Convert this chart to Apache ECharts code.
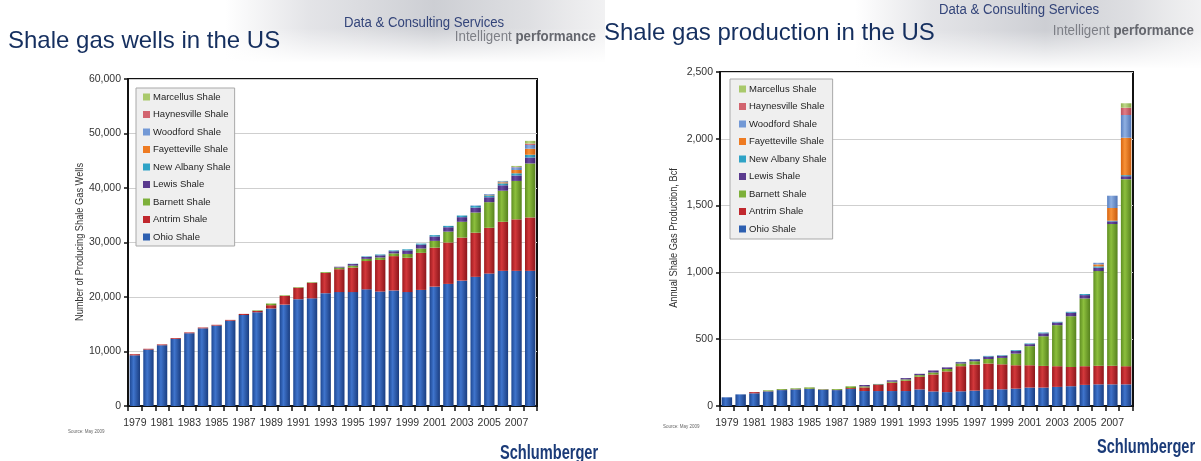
<!DOCTYPE html>
<html>
<head>
<meta charset="utf-8">
<script src="https://cdn.jsdelivr.net/npm/echarts@6/dist/echarts.min.js"></script>
<style>
  html, body { margin: 0; padding: 0; background: #ffffff; }
  #chart { width: 1201px; height: 461px; }
</style>
</head>
<body>
<div id="chart"></div>
<script>
// Years on the category axis
const years = ['1979','1980','1981','1982','1983','1984','1985','1986','1987','1988',
  '1989','1990','1991','1992','1993','1994','1995','1996','1997','1998',
  '1999','2000','2001','2002','2003','2004','2005','2006','2007','2008'];

// Number of producing shale gas wells, by play
const ohioWells = [9300,10350,11150,12300,13350,14250,14750,15650,16700,17200,17900,18600,19600,19750,20700,20900,20900,21400,21000,21200,20900,21300,21900,22400,23000,23700,24300,24800,24800,24800];
const antrimWells = [200,150,150,150,150,150,150,150,200,250,600,1600,2100,2850,3700,4200,4500,5200,5800,6300,6300,6800,7150,7600,7900,8100,8400,9000,9450,9800];
const barnettWells = [0,0,0,0,0,0,0,0,0,100,300,100,100,100,150,300,350,400,450,500,700,800,1250,2000,2900,3700,4700,5700,7050,9900];
const lewisWells = [0,0,0,0,0,0,0,0,0,0,0,0,0,0,0,150,300,350,400,400,650,700,800,800,850,900,900,1000,1000,1100];
const newAlbanyWells = [0,0,0,0,0,0,0,0,0,0,0,0,0,0,0,0,50,100,150,150,200,200,250,250,300,300,350,350,400,500];
const fayettevilleWells = [0,0,0,0,0,0,0,0,0,0,0,0,0,0,0,0,0,0,0,0,0,0,0,0,0,0,100,200,600,1100];
const woodfordWells = [0,0,0,0,0,0,0,0,0,0,0,0,0,0,0,0,0,0,0,0,0,0,0,0,0,100,150,200,500,700];
const haynesvilleWells = [0,0,0,0,0,0,0,0,0,0,0,0,0,0,0,0,0,0,0,0,0,0,0,0,0,0,0,0,50,250];
const marcellusWells = [0,0,0,0,0,0,0,0,0,0,0,0,0,0,0,0,0,0,0,0,0,0,0,0,0,0,0,50,200,500];

// Annual shale gas production (Bcf), by play
const ohioProd = [65,87,95,109,119,124,127,122,119,127,112,112,112,112,124,109,104,110,115,125,125,130,138,138,143,148,158,162,162,162];
const antrimProd = [0,0,9,2,2,2,2,2,2,7,27,45,62,77,95,127,155,188,195,193,187,175,167,162,155,144,140,140,140,136];
const barnettProd = [0,0,0,6,6,6,10,3,6,13,8,5,8,10,12,15,18,20,25,34,48,87,143,222,307,380,507,708,1060,1400];
const lewisProd = [0,0,0,0,0,0,0,0,0,0,10,3,10,10,10,15,12,10,14,18,16,20,15,22,20,26,25,25,20,22];
const newAlbanyProd = [0,0,0,0,0,0,0,0,0,0,0,0,0,0,0,0,0,2,3,5,4,6,5,6,5,7,8,10,5,8];
const fayettevilleProd = [0,0,0,0,0,0,0,0,0,0,0,0,0,0,0,0,0,0,0,0,0,0,0,0,0,0,0,15,95,280];
const woodfordProd = [0,0,0,0,0,0,0,0,0,0,0,0,0,0,0,0,0,0,0,0,0,0,0,0,0,0,0,12,92,170];
const haynesvilleProd = [0,0,0,0,0,0,0,0,0,0,0,0,0,0,0,0,0,0,0,0,0,0,0,0,0,0,0,0,0,55];
const marcellusProd = [0,0,0,0,0,0,0,0,0,0,0,0,0,0,0,0,0,0,0,0,0,0,0,0,0,0,0,0,0,33];

// Axis ticks
const wellTicks = { min: 0, max: 60000, interval: 10000 };
const prodTicks = { min: 0, max: 2500, interval: 500 };

// Play names in stacking order (bottom to top) and their shaded colours
const plays = [
  { name: 'Ohio Shale',        c: ['#1d4792', '#3f74cc', '#1a3d80'], solid: '#2d5fb0' },
  { name: 'Antrim Shale',      c: ['#9d1a1f', '#d3383b', '#8c161b'], solid: '#c0272d' },
  { name: 'Barnett Shale',     c: ['#5f8e22', '#8cbf3d', '#56821e'], solid: '#7db03a' },
  { name: 'Lewis Shale',       c: ['#46297a', '#6b4aa3', '#3e2470'], solid: '#5a3a8e' },
  { name: 'New Albany Shale',  c: ['#1d86a8', '#44b6d6', '#1a7896'], solid: '#2fa3c6' },
  { name: 'Fayetteville Shale',c: ['#d8640f', '#f89238', '#c85a0c'], solid: '#ee7b22' },
  { name: 'Woodford Shale',    c: ['#587fc0', '#8fb0e2', '#5074b4'], solid: '#7399d6' },
  { name: 'Haynesville Shale', c: ['#bb4f5b', '#e27d87', '#ad4651'], solid: '#d2646f' },
  { name: 'Marcellus Shale',   c: ['#8fb150', '#bfd98a', '#84a547'], solid: '#a9c96b' }
];
const wellSeries = [ohioWells, antrimWells, barnettWells, lewisWells, newAlbanyWells,
  fayettevilleWells, woodfordWells, haynesvilleWells, marcellusWells];
const prodSeries = [ohioProd, antrimProd, barnettProd, lewisProd, newAlbanyProd,
  fayettevilleProd, woodfordProd, haynesvilleProd, marcellusProd];

const SANS = '"Liberation Sans", Arial, sans-serif';
const NAVY = '#152f5f';

function shade(c) {
  return { type: 'linear', x: 0, y: 0, x2: 1, y2: 0,
    colorStops: [{ offset: 0, color: c[0] }, { offset: 0.38, color: c[1] }, { offset: 1, color: c[2] }] };
}

function thousands(v) { return String(v).replace(/\B(?=(\d{3})+(?!\d))/g, ','); }

function buildSeries(values, idx, stack) {
  return plays.map((p, i) => ({
    name: p.name,
    type: 'bar',
    stack: stack,
    xAxisIndex: idx,
    yAxisIndex: idx,
    barWidth: '76%',
    data: values[i],
    itemStyle: { color: shade(p.c) },
    emphasis: { disabled: true }
  }));
}

const legendData = plays.slice().reverse().map(p => ({ name: p.name, itemStyle: { color: p.solid } }));

function legend(left, top, padding) {
  return {
    orient: 'vertical', left: left, top: top, padding: padding,
    backgroundColor: '#efefef', borderColor: '#a9a9a9', borderWidth: 1,
    itemWidth: 7, itemHeight: 7, itemGap: 5.5, icon: 'rect',
    textStyle: { fontFamily: SANS, fontSize: 9.5, color: '#1e1e1e', lineHeight: 12, padding: [0, 0, 0, -2] },
    data: legendData, selectedMode: false
  };
}

function xAxis(idx) {
  return {
    type: 'category', gridIndex: idx, data: years,
    axisLine: { lineStyle: { color: '#111', width: 2 } },
    axisTick: { show: true, interval: 0, length: 5, lineStyle: { color: '#111', width: 1.5 } },
    axisLabel: { interval: 1, fontFamily: SANS, fontSize: 10.5, color: '#333', margin: 12 }
  };
}

function yAxis(idx, t) {
  return {
    type: 'value', gridIndex: idx, min: t.min, max: t.max, interval: t.interval,
    axisLine: { show: true, lineStyle: { color: '#111', width: 2 } },
    axisTick: { show: true, length: 4, lineStyle: { color: '#111', width: 1.5 } },
    axisLabel: { fontFamily: SANS, fontSize: 10.5, color: '#333', margin: 7, formatter: thousands },
    splitLine: { lineStyle: { color: '#cfcfcf', width: 1 } }
  };
}

// Slide header decoration: grey band behind the banner text
function headerBand(x, w, h) {
  return [
    { type: 'rect', silent: true, z: -10, shape: { x: x, y: 0, width: w, height: h },
      style: { fill: { type: 'linear', x: 0, y: 0, x2: 1, y2: 0, colorStops: [
        { offset: 0, color: 'rgba(205,206,212,0)' },
        { offset: 0.22, color: 'rgba(205,206,212,0.55)' },
        { offset: 0.55, color: 'rgba(196,198,204,0.85)' },
        { offset: 0.8, color: 'rgba(214,215,219,0.8)' },
        { offset: 1, color: 'rgba(232,232,234,0.6)' }] } } },
    { type: 'rect', silent: true, z: -10, shape: { x: x, y: h * 0.45, width: w, height: h * 0.55 + 1 },
      style: { fill: { type: 'linear', x: 0, y: 0, x2: 0, y2: 1, colorStops: [
        { offset: 0, color: 'rgba(255,255,255,0)' },
        { offset: 1, color: 'rgba(255,255,255,1)' }] } } }
  ];
}

// Condensed text drawn by squeezing a regular face horizontally
function narrowText(x, y, text, size, fill, sx, extra, rot) {
  return { type: 'text', x: x, y: y, scaleX: sx, rotation: rot || 0, silent: true,
    style: Object.assign({ text: text, fontFamily: SANS, fontSize: size, fill: fill, verticalAlign: 'bottom' }, extra || {}) };
}

function banner(x, y, size) {
  return { type: 'text', x: x, y: y, scaleX: 0.95, silent: true,
    style: { text: '{a|Intelligent }{b|performance}', align: 'right', verticalAlign: 'bottom',
      rich: { a: { fontFamily: SANS, fontSize: size, fill: '#7d7f86' },
              b: { fontFamily: SANS, fontSize: size, fontWeight: 'bold', fill: '#64666d' } } } };
}

const graphics = [].concat(
  headerBand(225, 380, 62),
  headerBand(855, 346, 68),
  [
    { type: 'text', x: 8, y: 53, silent: true, style: { text: 'Shale gas wells in the US', fontFamily: SANS, fontSize: 24, fill: NAVY, verticalAlign: 'bottom' } },
    { type: 'text', x: 604, y: 45, silent: true, style: { text: 'Shale gas production in the US', fontFamily: SANS, fontSize: 24, fill: NAVY, verticalAlign: 'bottom' } },
    narrowText(344, 30, 'Data & Consulting Services', 14, '#34457a', 0.94),
    banner(596, 44, 14),
    narrowText(939, 17, 'Data & Consulting Services', 14, '#34457a', 0.94),
    banner(1194, 38, 14),
    narrowText(80, 242, 'Number of Producing Shale Gas Wells', 11, '#333', 0.84,
      { align: 'center', verticalAlign: 'middle' }, Math.PI / 2),
    narrowText(674, 238, 'Annual Shale Gas Production, Bcf', 11, '#333', 0.84,
      { align: 'center', verticalAlign: 'middle' }, Math.PI / 2),
    narrowText(68, 432, 'Source: May 2009', 4.5, '#666', 1, { verticalAlign: 'middle' }),
    narrowText(663, 427, 'Source: May 2009', 4.5, '#666', 1, { verticalAlign: 'middle' }),
    narrowText(500, 463, 'Schlumberger', 20, '#1b3b78', 0.73, { fontWeight: 'bold' }),
    narrowText(1097, 457, 'Schlumberger', 20, '#1b3b78', 0.73, { fontWeight: 'bold' })
  ]
);

const chart = echarts.init(document.getElementById('chart'), null, { renderer: 'canvas' });
chart.setOption({
  animation: false,
  backgroundColor: '#ffffff',
  grid: [
    { left: 128, top: 79, right: 664, bottom: 55, show: true, borderColor: '#111', borderWidth: 2, backgroundColor: 'transparent' },
    { left: 720, top: 72, right: 68, bottom: 55, show: true, borderColor: '#111', borderWidth: 2, backgroundColor: 'transparent' }
  ],
  legend: [legend(136, 88, [3, 4, 3, 7]), legend(730, 79, [4, 6, 4, 9])],
  xAxis: [xAxis(0), xAxis(1)],
  yAxis: [yAxis(0, wellTicks), yAxis(1, prodTicks)],
  series: buildSeries(wellSeries, 0, 'wells').concat(buildSeries(prodSeries, 1, 'prod')),
  graphic: graphics
});
</script>
</body>
</html>
